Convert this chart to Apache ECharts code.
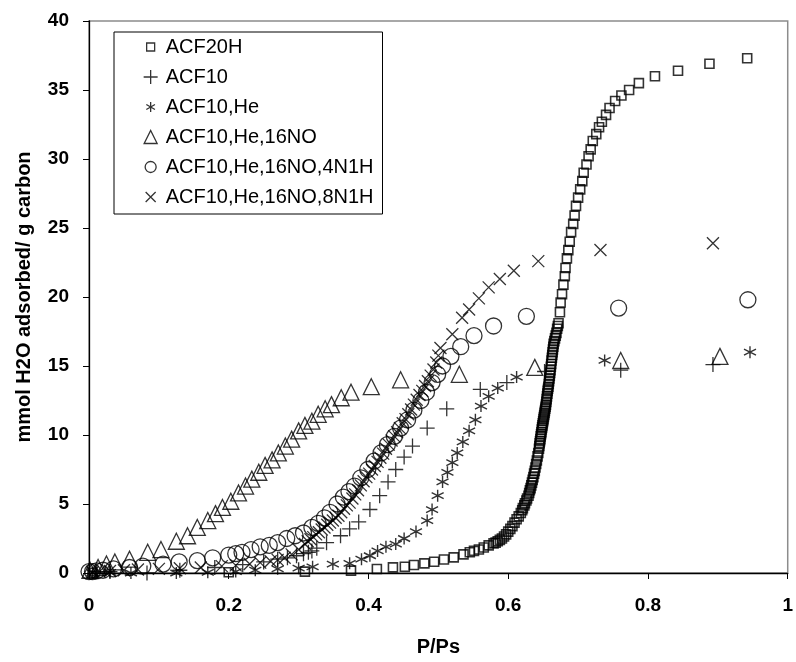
<!DOCTYPE html>
<html><head><meta charset="utf-8">
<script src="https://cdn.jsdelivr.net/npm/echarts@6/dist/echarts.min.js"></script>
<style>html,body{margin:0;padding:0;background:#fff}#c{width:796px;height:662px}</style>
</head><body><div id="c"></div>
<script>
const seriesNames = ['ACF20H','ACF10','ACF10,He','ACF10,He,16NO','ACF10,He,16NO,4N1H','ACF10,He,16NO,8N1H'];
const xTicks = [0,0.2,0.4,0.6,0.8,1];
const yTicks = [0,5,10,15,20,25,30,35,40];

const acf20h = [[0.005,0.02],[0.2,0.05],[0.309,0.1],[0.375,0.17],[0.412,0.29],[0.435,0.41],[0.452,0.45],[0.465,0.58],[0.48,0.7],[0.494,0.82],[0.508,0.98],[0.522,1.13],[0.536,1.35],[0.545,1.5],[0.551,1.6],[0.558,1.7],[0.565,1.85],[0.572,2.0],[0.579,2.15],
[0.582,2.2],[0.585,2.3],[0.588,2.4],[0.591,2.5],[0.594,2.65],[0.597,2.8],[0.600,3.0],[0.603,3.2],[0.606,3.4],[0.609,3.65],[0.612,3.9],[0.615,4.1],
[0.618,4.35],[0.620,4.55],[0.621,4.7],[0.623,4.9],[0.624,5.05],[0.626,5.25],[0.627,5.4],[0.629,5.6],[0.630,5.8],[0.631,6.0],[0.632,6.15],[0.633,6.35],[0.634,6.55],[0.635,6.75],[0.636,6.95],[0.637,7.2],[0.638,7.4],[0.639,7.65],[0.640,7.9],[0.641,8.15],[0.642,8.45],[0.643,8.7],[0.644,9.0],[0.6445,9.2],[0.645,9.4],[0.6455,9.55],[0.646,9.7],[0.6465,9.9],[0.647,10.05],[0.6475,10.2],[0.648,10.4],[0.6485,10.55],[0.649,10.7],[0.6495,10.85],[0.650,11.0],[0.6505,11.15],[0.651,11.3],[0.6515,11.45],[0.652,11.6],[0.6525,11.75],[0.653,11.9],[0.6535,12.05],[0.654,12.2],[0.6545,12.4],[0.655,12.6],[0.6555,12.8],[0.656,13.0],[0.6565,13.2],[0.657,13.35],[0.6575,13.5],[0.658,13.7],[0.6585,13.9],[0.659,14.1],[0.6595,14.3],[0.660,14.5],[0.6605,14.7],[0.661,14.95],[0.6615,15.15],[0.662,15.4],[0.6625,15.6],[0.663,15.8],[0.6635,16.0],[0.664,16.2],[0.6645,16.4],[0.665,16.6],[0.666,16.8],[0.667,17.0],[0.668,17.2],[0.669,17.4],[0.670,17.7],[0.671,17.9],[0.672,18.1],
[0.674,18.9],[0.675,19.6],[0.677,20.2],[0.679,20.9],[0.681,21.5],[0.682,22.1],[0.684,22.8],[0.686,23.4],[0.688,24.0],[0.690,24.7],[0.693,25.3],[0.695,25.9],[0.697,26.6],[0.700,27.2],[0.703,27.8],[0.706,28.4],[0.708,29.0],[0.712,29.6],[0.715,30.2],[0.718,30.7],[0.721,31.3],[0.726,31.8],[0.730,32.3],[0.734,32.7],[0.740,33.2],[0.745,33.7],[0.753,34.2],[0.762,34.6],[0.773,35.0],[0.787,35.5],[0.810,36.0],[0.843,36.4],[0.888,36.9],[0.942,37.3]];

const acf10 = [[0.01,0.1],[0.03,0.1],[0.083,0.0],[0.13,0.2],[0.18,0.4],[0.22,0.6],[0.25,0.8],[0.27,1.0],[0.284,1.1],[0.297,1.25],[0.307,1.4],[0.314,1.5],[0.319,1.6],[0.326,1.8],[0.34,2.2],[0.36,2.7],[0.373,3.2],[0.386,3.7],[0.402,4.6],[0.416,5.6],[0.428,6.6],[0.439,7.5],[0.451,8.4],[0.463,9.2],[0.484,10.5],[0.512,11.9],[0.56,13.3],[0.598,13.8],[0.652,14.6],[0.761,14.7],[0.893,15.1]];

const acf10He = [[0.005,0.02],[0.03,0.05],[0.06,0.0],[0.125,0.0],[0.17,0.05],[0.21,0.1],[0.238,0.2],[0.27,0.3],[0.30,0.35],[0.32,0.45],[0.349,0.65],[0.373,0.7],[0.39,1.0],[0.402,1.25],[0.413,1.6],[0.425,1.9],[0.439,2.1],[0.451,2.5],[0.468,3.0],[0.484,3.8],[0.491,4.6],[0.499,5.6],[0.506,6.6],[0.513,7.3],[0.520,8.0],[0.527,8.7],[0.535,9.5],[0.544,10.3],[0.553,11.1],[0.561,12.1],[0.572,12.8],[0.585,13.4],[0.612,14.2],[0.738,15.4],[0.946,16.0]];

const acf10He16NO = [[0.0014,0.2],[0.013,0.4],[0.025,0.65],[0.037,0.8],[0.058,1.0],[0.084,1.5],[0.103,1.7],[0.125,2.3],[0.141,2.7],[0.155,3.3],[0.170,3.8],[0.181,4.3],[0.191,4.75],[0.203,5.2],[0.214,5.8],[0.224,6.3],[0.233,6.8],[0.243,7.3],[0.252,7.8],[0.262,8.2],[0.271,8.7],[0.281,9.2],[0.290,9.7],[0.300,10.3],[0.309,10.7],[0.319,11.0],[0.328,11.5],[0.338,11.9],[0.347,12.2],[0.361,12.7],[0.375,13.1],[0.404,13.5],[0.446,14.0],[0.530,14.4],[0.638,14.9],[0.761,15.4],[0.903,15.7]];

const acf10He16NO4N1H = [[0.0,0.1],[0.005,0.1],[0.011,0.15],[0.02,0.2],[0.035,0.3],[0.058,0.4],[0.077,0.5],[0.106,0.65],[0.129,0.8],[0.155,0.9],[0.177,1.1],[0.2,1.3],[0.21,1.4],[0.219,1.5],[0.232,1.7],[0.245,1.9],[0.258,2.0],[0.27,2.2],[0.283,2.5],[0.295,2.7],[0.307,2.9],[0.319,3.3],[0.328,3.6],[0.337,4.0],[0.345,4.4],[0.355,5.0],[0.364,5.5],[0.372,5.9],[0.38,6.3],[0.389,6.9],[0.399,7.5],[0.408,8.1],[0.418,8.7],[0.427,9.3],[0.437,9.9],[0.446,10.5],[0.456,11.1],[0.465,11.8],[0.475,12.5],[0.483,13.1],[0.491,13.8],[0.499,14.4],[0.506,15.0],[0.518,15.7],[0.532,16.4],[0.551,17.2],[0.579,17.9],[0.626,18.6],[0.758,19.2],[0.943,19.8]];

const acf10He16NO8N1H = [[0.005,0.05],[0.015,0.1],[0.03,0.15],[0.05,0.2],[0.07,0.25],[0.1,0.3],[0.13,0.35],[0.16,0.4],[0.19,0.5],[0.21,0.55],[0.23,0.65],[0.245,0.75],[0.26,0.85],[0.27,0.95],[0.28,1.1],[0.29,1.35],[0.30,1.7],
[0.309,2.1],[0.313,2.3],[0.317,2.45],[0.321,2.6],[0.325,2.8],[0.329,2.95],[0.333,3.15],[0.337,3.3],[0.341,3.5],[0.345,3.65],[0.349,3.8],[0.353,4.0],[0.357,4.15],[0.361,4.4],[0.365,4.65],[0.369,4.9],[0.373,5.1],[0.377,5.4],[0.381,5.7],[0.385,6.0],[0.389,6.35],[0.393,6.65],[0.397,6.95],[0.401,7.2],[0.405,7.5],[0.409,7.75],[0.413,8.05],[0.417,8.35],[0.421,8.65],[0.425,9.0],[0.429,9.3],[0.433,9.6],[0.437,9.9],[0.441,10.2],[0.445,10.5],[0.449,10.85],[0.453,11.15],[0.457,11.5],[0.461,11.85],[0.465,12.2],[0.469,12.55],[0.473,12.9],[0.477,13.2],[0.481,13.55],[0.485,13.9],[0.489,14.3],[0.493,14.75],[0.497,15.25],[0.500,15.75],[0.503,16.3],
[0.520,17.3],[0.534,18.5],[0.544,19.1],[0.558,19.9],[0.572,20.7],[0.588,21.3],[0.608,21.9],[0.643,22.6],[0.732,23.4],[0.893,23.9]];

const FONT = '"Liberation Sans", Arial, sans-serif';
const SYM_PLUS = 'path://M5 0L5 10M0 5L10 5';
const SYM_X = 'path://M0 0L10 10M10 0L0 10';
const SYM_STAR = 'path://M5 0L5 10M0.67 2.5L9.33 7.5M0.67 7.5L9.33 2.5';

const styles = [
  {symbol:'rect', size:9, bw:1.6, icon:'path://M-3 -3M0 0L8 0L8 8L0 8ZM11 11'},
  {symbol:SYM_PLUS, size:15, bw:1.3, icon:'path://M0.5 0.5M7 0L7 14M0 7L14 7'},
  {symbol:SYM_STAR, size:12, bw:1.4, icon:'path://M-2 -2M5 0L5 10M0.67 2.5L9.33 7.5M0.67 7.5L9.33 2.5M12 12'},
  {symbol:'triangle', size:16, bw:1.3, icon:'path://M0 13L6.5 0L13 13ZM-0.5 -0.5M13.5 13.5'},
  {symbol:'circle', size:16, bw:1.3, icon:'path://M-1.5 -1.5M12.5 12.5M0 5.5A5.5 5.5 0 1 1 11 5.5A5.5 5.5 0 1 1 0 5.5Z'},
  {symbol:SYM_X, size:12, bw:1.3, icon:'path://M-2 -2M0 0L10 10M10 0L0 10M12 12'}
];
const datasets = [acf20h, acf10, acf10He, acf10He16NO, acf10He16NO4N1H, acf10He16NO8N1H];

const series = seriesNames.map((n,i)=>({
  name:n, type:'scatter', data:datasets[i], symbol:styles[i].symbol, symbolSize:styles[i].size,
  itemStyle:{color:'transparent', borderColor:'#000', borderWidth:styles[i].bw},
  emphasis:{disabled:true}, silent:true, z: 2
}));

const chart = echarts.init(document.getElementById('c'), null, {renderer:'canvas'});
chart.setOption({
  animation:false,
  backgroundColor:'#fff',
  grid:{left:89, right:3, top:21, bottom:88, show:true, borderColor:'#8c8c8c', borderWidth:1.5, containLabel:false},
  legend:{
    orient:'vertical', left:114, top:32,
    data:seriesNames.map((n,i)=>({name:n, icon:styles[i].icon})),
    itemWidth:14, itemHeight:14, itemGap:10,
    padding:[5,9,7,29],
    borderColor:'#000', borderWidth:1, backgroundColor:'#fff',
    textStyle:{fontFamily:FONT, fontSize:20, color:'#000', padding:[0,0,0,3], lineHeight:20},
    itemStyle:{color:'transparent', borderColor:'#000', borderWidth:1.3},
    selectedMode:false
  },
  xAxis:{type:'value', min:xTicks[0], max:xTicks[xTicks.length-1], interval:0.2,
    name:'P/Ps', nameLocation:'middle', nameGap:64,
    nameTextStyle:{fontFamily:FONT, fontSize:20, fontWeight:'bold', color:'#000', verticalAlign:'top'},
    axisLine:{show:true, onZero:false, lineStyle:{color:'#000', width:1.3}},
    axisTick:{show:true, inside:false, length:6, lineStyle:{color:'#000'}},
    axisLabel:{fontFamily:FONT, fontSize:19, fontWeight:'bold', color:'#000', margin:23,
      formatter:v=>String(Math.round(v*10)/10)},
    splitLine:{show:false}},
  yAxis:{type:'value', min:yTicks[0], max:yTicks[yTicks.length-1], interval:5,
    name:'mmol H2O adsorbed/ g carbon', nameLocation:'middle', nameGap:55,
    nameTextStyle:{fontFamily:FONT, fontSize:20, fontWeight:'bold', color:'#000'},
    axisLine:{show:true, onZero:false, lineStyle:{color:'#000', width:1.3}},
    axisTick:{show:true, inside:false, length:6, lineStyle:{color:'#000'}},
    axisLabel:{fontFamily:FONT, fontSize:19, fontWeight:'bold', color:'#000', margin:20},
    splitLine:{show:false}},
  series:series
});
</script></body></html>
